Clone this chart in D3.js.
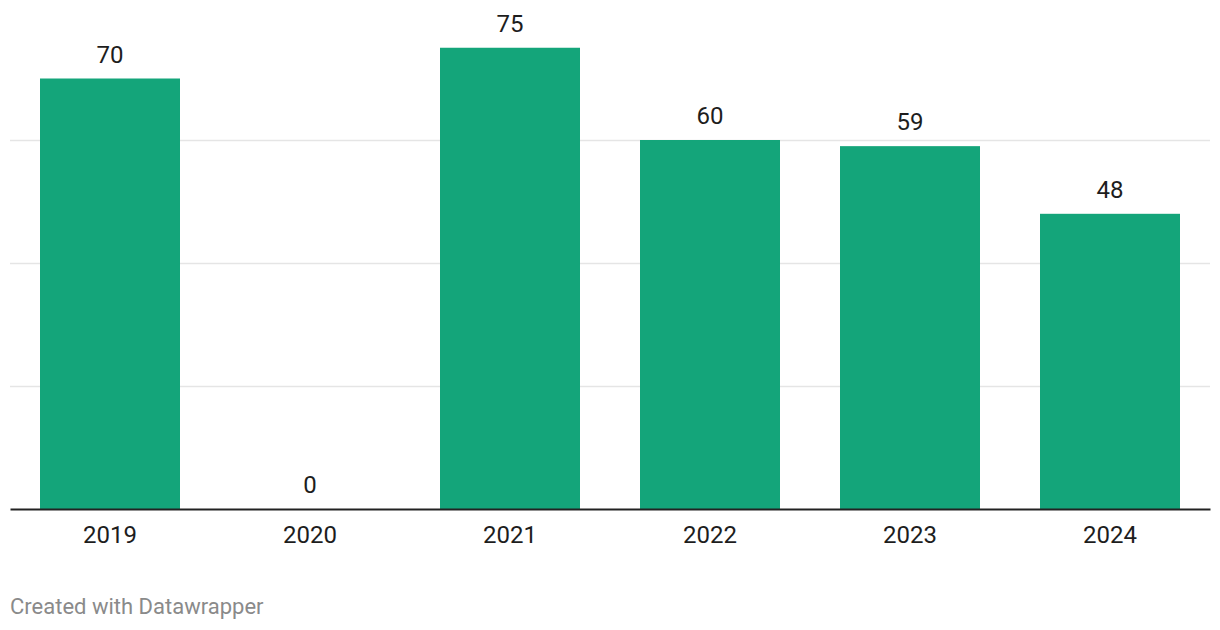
<!DOCTYPE html>
<html>
<head>
<meta charset="utf-8">
<script src="https://cdn.jsdelivr.net/npm/d3@7"></script>
<style>
  html, body { margin: 0; padding: 0; background: #fff; }
  svg { display: block; font-family: Roboto, "Noto Sans", sans-serif; }
</style>
</head>
<body>
<svg id="chart" width="1220" height="630"></svg>
<script>
const years = ["2019", "2020", "2021", "2022", "2023", "2024"];
const values = [70, 0, 75, 60, 59, 48];
const gridTicks = [20, 40, 60];
const footerText = "Created with Datawrapper";

const svg = d3.select("#chart");
const x = d3.scaleBand().domain(years).range([10, 1210]).paddingInner(0.3).paddingOuter(0.15);
const y = d3.scaleLinear().domain([0, 60]).range([509, 140]);

// gridlines
svg.append("g").selectAll("line").data(gridTicks).join("line")
  .attr("x1", 10).attr("x2", 1210)
  .attr("y1", d => Math.round(y(d)) + 0.5).attr("y2", d => Math.round(y(d)) + 0.5)
  .attr("stroke", "#e5e5e5").attr("stroke-width", 1.5);

// bars
svg.append("g").selectAll("rect").data(years).join("rect")
  .attr("x", d => x(d))
  .attr("width", x.bandwidth())
  .attr("y", (d, i) => y(values[i]))
  .attr("height", (d, i) => y(0) - y(values[i]))
  .attr("fill", "#14a57a");

// value labels
svg.append("g").selectAll("text").data(years).join("text")
  .attr("x", d => x(d) + x.bandwidth() / 2)
  .attr("y", (d, i) => y(values[i]) - 16)
  .attr("text-anchor", "middle")
  .attr("font-size", 24)
  .attr("fill", "#1d1d1d")
  .text((d, i) => values[i]);

// baseline axis
const xAxis = d3.axisBottom(x).tickSize(0);
const ax = svg.append("g").attr("transform", `translate(0,${y(0)})`).call(xAxis);
ax.select(".domain").attr("stroke", "#222").attr("stroke-width", 2);
ax.selectAll("text")
  .attr("y", 34).attr("dy", 0)
  .attr("font-size", 24).attr("fill", "#1d1d1d").attr("font-family", "Roboto, sans-serif");

// footer
svg.append("text")
  .attr("x", 10).attr("y", 614)
  .attr("font-size", 22)
  .attr("fill", "#8a8a8a")
  .text(footerText);
</script>
</body>
</html>
